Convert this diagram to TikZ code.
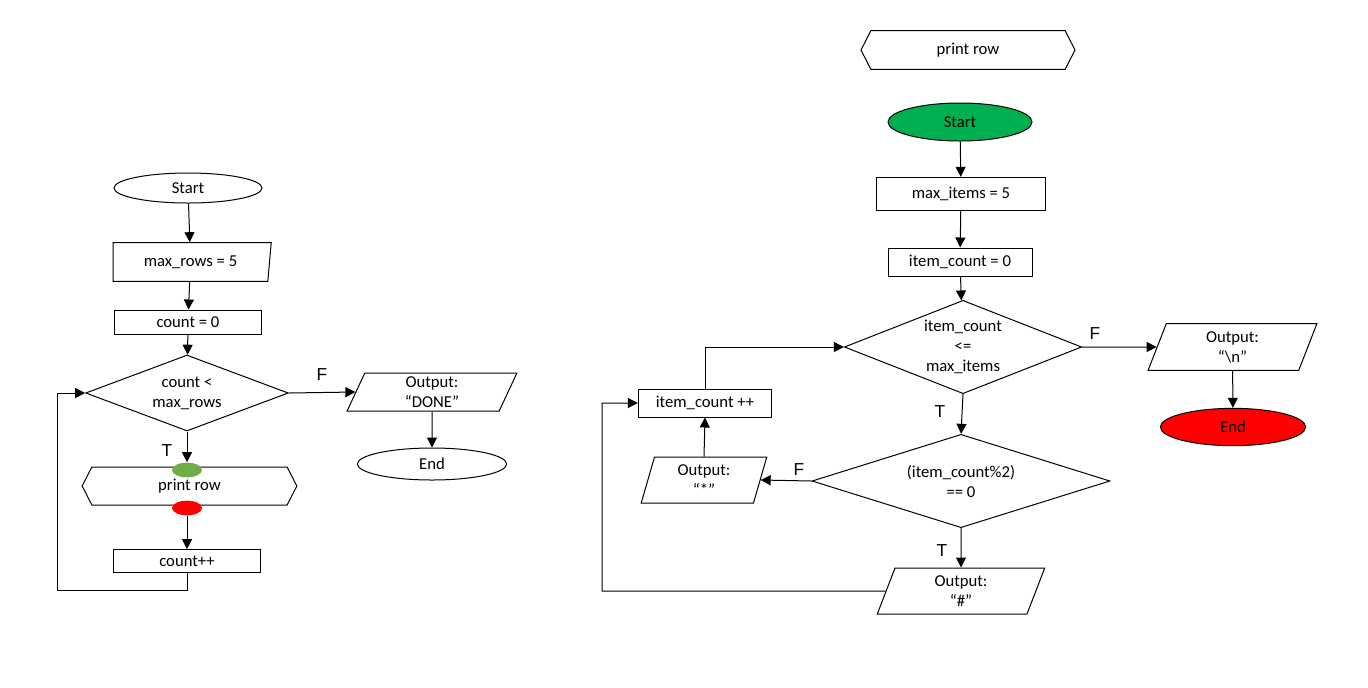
\documentclass[tikz,border=0pt]{standalone}
\usepackage{fontspec}
\setmainfont{Carlito}
\newfontfamily\labelfont{Liberation Sans}
\usetikzlibrary{arrows.meta,shapes.geometric,shapes.symbols}

\begin{document}
\begin{tikzpicture}[x=0.75pt,y=-0.75pt,>={Triangle[length=7.5pt,width=7.5pt]},
  line width=0.75pt,
  every node/.style={font=\fontsize{12.5}{15}\selectfont,inner sep=0pt,align=center},
  box/.style={draw,rectangle},
  term/.style={draw,ellipse},
  io/.style={draw,trapezium,trapezium left angle=77,trapezium right angle=103,
    trapezium stretches=true},
  test/.style={draw,diamond,inner sep=-6pt},
  subr/.style={draw,signal,signal to=east and west,signal pointer angle=126},
  dot/.style={ellipse,minimum width=22.5pt,minimum height=11pt},
  tf/.style={font=\labelfont\fontsize{13}{15}\selectfont}]
  \useasboundingbox (0,0) rectangle (1368,687);

  % main loop
  \node[term,minimum width=111pt,minimum height=22.5pt] (start) at (188,188) {Start};
  \node[draw,trapezium,trapezium left angle=90,trapezium right angle=99,
    trapezium stretches=true,minimum width=119pt,minimum height=29pt] (maxrows) at (190.5,262) {max\_rows = 5};
  \node[box,minimum width=110pt,minimum height=18pt] (cnt0) at (188,322) {count = 0};
  \node[test,aspect=2.67,minimum width=152pt,minimum height=57pt] (cond) at (187,393) {count <\\max\_rows};
  \node[io,minimum width=128pt,minimum height=28.5pt] (done) at (432,392) {Output:\\“DONE”};
  \node[term,minimum width=112pt,minimum height=24pt] (endL) at (432,464) {End};
  \node[subr,minimum width=161pt,minimum height=28.5pt] (prow) at (189.5,486) {print row};
  \node[dot,fill={rgb,255:red,112;green,173;blue,71}] (dotG) at (187,470) {};
  \node[dot,fill=red] (dotR) at (187,508) {};
  \node[box,minimum width=110pt,minimum height=17pt] (cntinc) at (187,561) {count++};
  \coordinate (lpL) at (57,590);

  \node[tf] (fL) at (322,375) {F};
  \node[tf] (tL) at (167,451) {T};

  \draw[->] (start) -- (maxrows);
  \draw[->] (maxrows) -- (cnt0);
  \draw[->] (cnt0) -- (cond);
  \draw[->] (cond.east) -- (done.west);
  \draw[->] (done) -- (endL);
  \draw[->] (cond.south) -- (dotG.north);
  \draw[->] (dotR.south) -- (cntinc.north);
  \draw[->] (cntinc.south) |- (lpL) |- (cond.west);

  % print row
  \node[subr,minimum width=160.5pt,minimum height=29pt] (prowR) at (968,50) {print row};
  \node[term,fill={rgb,255:red,0;green,176;blue,80},minimum width=108pt,minimum height=28.5pt] (startR) at (960,122) {Start};
  \node[box,minimum width=127pt,minimum height=25pt] (maxitems) at (961,194) {max\_items = 5};
  \node[box,minimum width=108pt,minimum height=21pt] (ic0) at (960,262) {item\_count = 0};
  \node[test,aspect=2.55,minimum width=178pt,minimum height=70pt] (loopcond) at (963,347) {item\_count\\<=\\max\_items};
  \node[io,minimum width=127pt,minimum height=35pt] (outn) at (1232.5,347) {Output:\\“\textbackslash n”};
  \node[term,fill=red,minimum width=109pt,minimum height=28pt] (endR) at (1233,427) {End};
  \node[test,aspect=3.2,minimum width=223.5pt,minimum height=70pt] (parity) at (961,481) {(item\_count\%2)\\== 0};
  \node[io,minimum width=94.5pt,minimum height=34.5pt] (star) at (704,480) {Output:\\“*”};
  \node[box,minimum width=100pt,minimum height=21pt] (icinc) at (705,403) {item\_count ++};
  \node[io,minimum width=126pt,minimum height=34.5pt] (hash) at (961,591) {Output:\\“\#”};
  \coordinate (lpR) at (602,591);

  \node[tf] (fR1) at (1095,334) {F};
  \node[tf] (tR1) at (940,412) {T};
  \node[tf] (fR2) at (799,470) {F};
  \node[tf] (tR2) at (942,551) {T};

  \draw[->] (startR) -- (maxitems);
  \draw[->] (maxitems) -- (ic0);
  \draw[->] (ic0) -- (loopcond);
  \draw[->] (loopcond.east) -- (outn.west);
  \draw[->] (outn) -- (endR);
  \draw[->] (loopcond.south) -- (parity.north);
  \draw[->] (parity.west) -- (star.east);
  \draw[->] (parity.south) -- (hash.north);
  \draw[->] (star.north) -- (icinc.south);
  \draw[->] (icinc.north) |- (loopcond.west);
  \draw[->] (hash.west) -- (lpR) |- (icinc.west);
\end{tikzpicture}
\end{document}
